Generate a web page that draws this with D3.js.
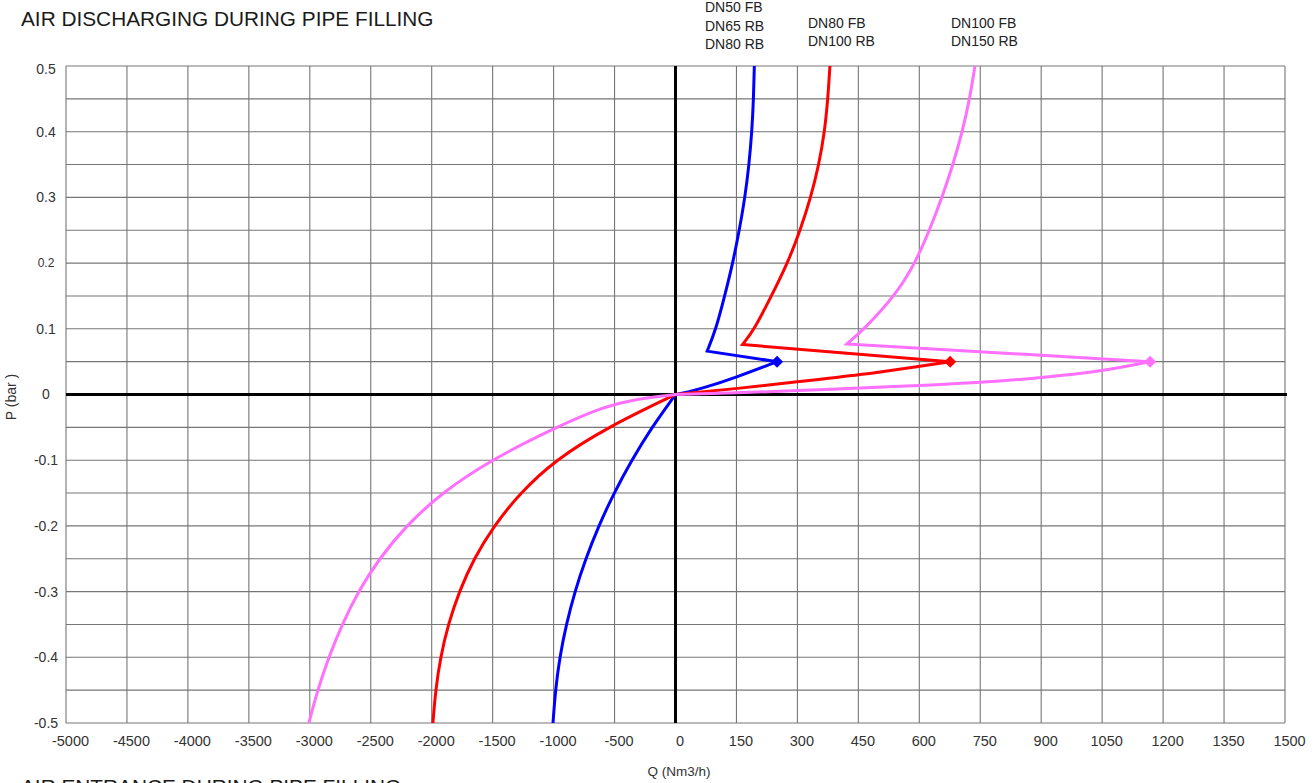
<!DOCTYPE html>
<html><head><meta charset="utf-8">
<script src="https://cdn.jsdelivr.net/npm/d3@7"></script>
<style>
html,body{margin:0;padding:0;background:#fff;}
svg{display:block;font-family:"Liberation Sans", Arial, sans-serif;}
</style></head><body>
<svg id="chart" width="1315" height="783"></svg>
<script>
// ---------- data ----------
const chartTitle = "AIR DISCHARGING DURING PIPE FILLING";
const nextTitle = "AIR ENTRANCE DURING PIPE FILLING";
const xTitle = "Q (Nm3/h)";
const yTitle = "P (bar )";

const xTicksNeg = [-5000, -4500, -4000, -3500, -3000, -2500, -2000, -1500, -1000, -500, 0];
const xTicksPos = [150, 300, 450, 600, 750, 900, 1050, 1200, 1350, 1500];
const yTicks = [0.5, 0.4, 0.3, 0.2, 0.1, 0, -0.1, -0.2, -0.3, -0.4, -0.5];
const yHalfGrid = [0.45, 0.35, 0.25, 0.15, 0.05, -0.05, -0.15, -0.25, -0.35, -0.45];

const seriesNames = [
  ["DN50 FB", "DN65 RB", "DN80 RB"],
  ["DN80 FB", "DN100 RB"],
  ["DN100 FB", "DN150 RB"]
];

// [Q (Nm3/h), P (bar)]
const blueUpper = [[194,0.5],[192,0.45],[188,0.4],[181,0.35],[171,0.3],[157,0.25],[141,0.2],[121,0.15],[100,0.1],[78,0.066]];
const blueMax = [250, 0.05];
const blueToZero = [[250,0.05],[146,0.0253],[70,0.0101],[29,0.0035],[0,0]];
const blueNeg = [[0,0],[-195,-0.05],[-360,-0.1],[-505,-0.15],[-630,-0.2],[-737,-0.25],[-826,-0.3],[-896,-0.35],[-950,-0.4],[-985,-0.45],[-1005,-0.5]];

const redUpper = [[380,0.5],[375,0.45],[367,0.4],[353,0.35],[333,0.3],[307,0.25],[276,0.2],[236,0.15],[195,0.1],[165,0.076]];
const redMax = [676, 0.05];
const redToZero = [[676,0.05],[600,0.043],[457,0.030],[298,0.0192],[146,0.0086],[0,0]];
const redNeg = [[0,0],[-560,-0.05],[-990,-0.1],[-1275,-0.15],[-1490,-0.2],[-1655,-0.25],[-1775,-0.3],[-1865,-0.35],[-1928,-0.4],[-1968,-0.45],[-1990,-0.5]];

const pinkUpper = [[737,0.5],[724,0.45],[706,0.4],[683,0.35],[656,0.3],[625,0.25],[590,0.2],[540,0.15],[465,0.1],[422,0.077]];
const pinkMax = [1168, 0.05];
const pinkToZero = [[1168,0.05],[1050,0.0355],[900,0.0255],[750,0.0182],[600,0.0136],[457,0.0101],[300,0.0058],[150,0.0024],[0,0]];
const pinkNeg = [[0,0],[-300,-0.006],[-600,-0.019],[-980,-0.05],[-1520,-0.1],[-1920,-0.15],[-2211,-0.2],[-2432,-0.25],[-2603,-0.3],[-2735,-0.35],[-2845,-0.4],[-2936,-0.45],[-3008,-0.5]];

// ---------- layout ----------
const L = 66, R = 1285, T = 66, B = 723, X0 = 675.5;
const colors = ["#0000ff", "#ff0000", "#ff70ff"];
const labelX = [705, 808, 951];
const labelY0 = [12, 28, 28];
const labelStep = [18.5, 17.5, 17.5];
const FONT = "'Liberation Sans', Arial, sans-serif";

const svg = d3.select("#chart");
const x = d3.scaleLinear().domain([-5000, 0, 1500]).range([L, X0, R]);
const y = d3.scaleLinear().domain([-0.5, 0.5]).range([B, T]);

const xTicks = xTicksNeg.concat(xTicksPos);

// grid
const grid = svg.append("g").attr("stroke", "#767676").attr("stroke-width", 1.1);
grid.selectAll("line.v").data(xTicks).join("line").attr("class", "v")
  .attr("x1", d => x(d)).attr("x2", d => x(d)).attr("y1", T).attr("y2", B);
grid.selectAll("line.h").data(yTicks.concat(yHalfGrid)).join("line").attr("class", "h")
  .attr("x1", L).attr("x2", R).attr("y1", d => y(d)).attr("y2", d => y(d));

// zero axes
svg.append("line").attr("x1", x(0)).attr("x2", x(0)).attr("y1", T).attr("y2", B)
  .attr("stroke", "#000").attr("stroke-width", 3);
svg.append("line").attr("x1", L).attr("x2", R + 2).attr("y1", y(0)).attr("y2", y(0))
  .attr("stroke", "#000").attr("stroke-width", 3);

// axes (labels only)
const xAxis = svg.append("g").attr("transform", `translate(4,${B})`)
  .call(d3.axisBottom(x).tickValues(xTicks).tickSize(0).tickPadding(13).tickFormat(d => String(d)));
xAxis.select(".domain").remove();
xAxis.selectAll("text").attr("font-size", "14.5px").attr("fill", "#333").attr("font-family", FONT);

const yAxis = svg.append("g").attr("transform", `translate(${L},0)`)
  .call(d3.axisLeft(y).tickValues(yTicks).tickSize(0).tickFormat(d => String(d)));
yAxis.select(".domain").remove();
yAxis.selectAll("text").attr("text-anchor", "middle").attr("x", 46 - L)
  .attr("font-size", d => d === 0.2 ? "12px" : "14px").attr("fill", "#333")
  .attr("font-family", FONT)
  .attr("dy", d => d === 0.5 ? "0.55em" : "0.32em");

// curves
const smooth = d3.line().x(d => x(d[0])).y(d => y(d[1])).curve(d3.curveBasis);
const lin = d3.line().x(d => x(d[0])).y(d => y(d[1]));
const series = [
  [blueUpper, blueMax, blueToZero, blueNeg],
  [redUpper, redMax, redToZero, redNeg],
  [pinkUpper, pinkMax, pinkToZero, pinkNeg]
];
series.forEach((s, i) => {
  const [up, mx, toZero, neg] = s;
  const d = smooth(up)
    + lin([up[up.length - 1], mx]).replace(/^M/, "L")
    + smooth(toZero).replace(/^M/, "L")
    + smooth(neg).replace(/^M/, "L");
  svg.append("path").attr("d", d).attr("fill", "none").attr("stroke", colors[i])
    .attr("stroke-width", 3).attr("stroke-linejoin", "miter").attr("stroke-miterlimit", 3);
  svg.append("path").attr("d", d3.symbol().type(d3.symbolSquare).size(72)())
    .attr("transform", `translate(${x(mx[0])},${y(mx[1])}) rotate(45)`)
    .attr("fill", colors[i]);
  const t = svg.append("text").attr("font-size", "14px").attr("fill", "#222");
  seriesNames[i].forEach((nm, j) => {
    t.append("tspan").attr("x", labelX[i]).attr("y", labelY0[i] + j * labelStep[i]).text(nm);
  });
});

// titles
svg.append("text").attr("x", 21).attr("y", 26).attr("font-size", "20.8px").attr("fill", "#1a1a1a").text(chartTitle);
svg.append("text").attr("x", 21).attr("y", 794).attr("font-size", "20.8px").attr("fill", "#1a1a1a").text(nextTitle);
svg.append("text").attr("x", 679).attr("y", 776).attr("text-anchor", "middle").attr("font-size", "13.5px").attr("fill", "#333").text(xTitle);
svg.append("text").attr("transform", "translate(16,397) rotate(-90)").attr("text-anchor", "middle")
  .attr("font-size", "14px").attr("fill", "#333").text(yTitle);
</script>
</body></html>
